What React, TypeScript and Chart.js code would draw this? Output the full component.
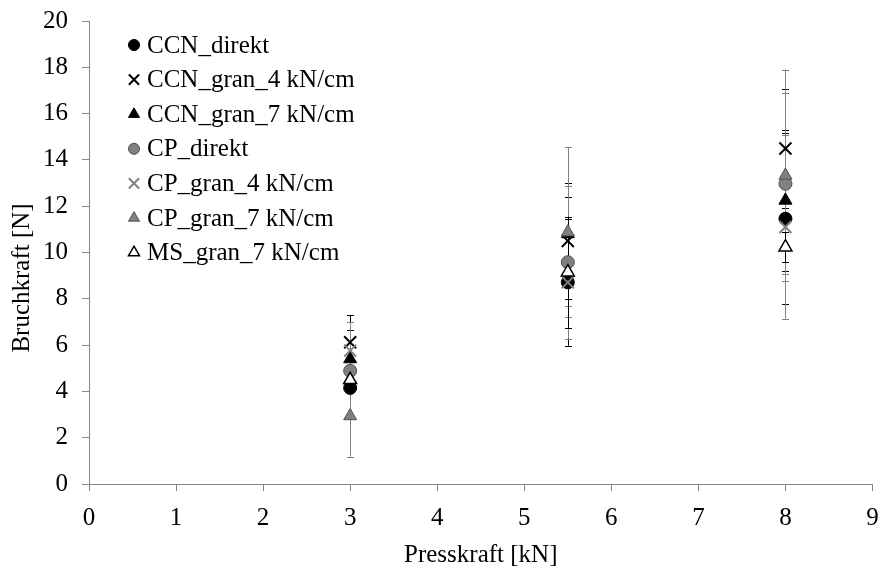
import React, { useEffect, useRef } from 'react';
import { Chart, registerables } from 'chart.js';
import { drawPoint } from 'chart.js/helpers';

Chart.register(...registerables);

// ---- data ----
const pressForces = [3, 5.5, 8];
const xTickValues = [0, 1, 2, 3, 4, 5, 6, 7, 8, 9];
const yTickValues = [0, 2, 4, 6, 8, 10, 12, 14, 16, 18, 20];

const seriesNames = [
  'CCN_direkt',
  'CCN_gran_4 kN/cm',
  'CCN_gran_7 kN/cm',
  'CP_direkt',
  'CP_gran_4 kN/cm',
  'CP_gran_7 kN/cm',
  'MS_gran_7 kN/cm',
];

const ccnDirekt = [4.15, 8.71, 11.46];
const ccnDirektErr = [1.2, 2.74, 3.69];
const ccnGran4 = [6.12, 10.5, 14.49];
const ccnGran4Err = [1.18, 2.5, 2.56];
const ccnGran7 = [5.4, 10.8, 12.25];
const ccnGran7Err = [1.25, 1.6, 3.05];
const cpDirekt = [4.89, 9.58, 12.97];
const cpDirektErr = [0.4, 3.3, 3.9];
const cpGran4 = [5.76, 8.71, 11.1];
const cpGran4Err = [1.22, 1.0, 3.96];
const cpGran7 = [2.94, 10.88, 13.33];
const cpGran7Err = [1.76, 3.68, 4.57];
const msGran7 = [4.5, 9.15, 10.23];
const msGran7Err = [0.3, 2.4, 0.65];

const seriesValues = [ccnDirekt, ccnGran4, ccnGran7, cpDirekt, cpGran4, cpGran7, msGran7];
const seriesErrors = [ccnDirektErr, ccnGran4Err, ccnGran7Err, cpDirektErr, cpGran4Err, cpGran7Err, msGran7Err];

// ---- styles ----
const FONT_FAMILY = '"Liberation Serif", "Times New Roman", serif';
const FONT_SIZE = 25;
const AXIS_COLOR = '#868686';
const GREY = '#808080';
const GREY_EDGE = '#505050';

const seriesStyles = [
  { pointStyle: 'circle', backgroundColor: '#000', borderColor: '#000', borderWidth: 1, radius: 6.5, errColor: '#000' },
  { pointStyle: 'crossRot', backgroundColor: '#000', borderColor: '#000', borderWidth: 2, radius: 8.5, errColor: '#000' },
  { pointStyle: 'triangle', backgroundColor: '#000', borderColor: '#000', borderWidth: 1, radius: 7.5, errColor: '#000' },
  { pointStyle: 'circle', backgroundColor: GREY, borderColor: GREY_EDGE, borderWidth: 1, radius: 6.5, errColor: GREY },
  { pointStyle: 'crossRot', backgroundColor: GREY, borderColor: GREY, borderWidth: 2, radius: 8.5, errColor: GREY },
  { pointStyle: 'triangle', backgroundColor: GREY, borderColor: GREY_EDGE, borderWidth: 1, radius: 7.5, errColor: GREY },
  { pointStyle: 'triangle', backgroundColor: '#fff', borderColor: '#000', borderWidth: 1.5, radius: 7.5, errColor: '#000' },
];

const LEGEND_MARKER_X = 134;
const LEGEND_TEXT_X = 147;
const LEGEND_FIRST_Y = 45;
const LEGEND_STEP = 34.6;

const errorBarPlugin = {
  id: 'errorBars',
  beforeDatasetsDraw(chart: any) {
    const { ctx, scales } = chart;
    const xs = scales.x;
    const ys = scales.y;
    ctx.save();
    chart.data.datasets.forEach((ds: any) => {
      ctx.strokeStyle = ds.errColor;
      ctx.lineWidth = 1;
      ds.data.forEach((pt: any, j: number) => {
        const e = ds.errValues[j];
        const px = Math.round(xs.getPixelForValue(pt.x)) + 0.5;
        const top = ys.getPixelForValue(pt.y + e);
        const bot = ys.getPixelForValue(pt.y - e);
        ctx.beginPath();
        ctx.moveTo(px, top);
        ctx.lineTo(px, bot);
        ctx.moveTo(px - 3.5, Math.round(top) + 0.5);
        ctx.lineTo(px + 3.5, Math.round(top) + 0.5);
        ctx.moveTo(px - 3.5, Math.round(bot) + 0.5);
        ctx.lineTo(px + 3.5, Math.round(bot) + 0.5);
        ctx.stroke();
      });
    });
    ctx.restore();
  },
};

const legendAndTitlePlugin = {
  id: 'legendAndTitle',
  afterDraw(chart: any) {
    const ctx = chart.ctx;
    ctx.save();
    ctx.font = `${FONT_SIZE}px ${FONT_FAMILY}`;
    ctx.textBaseline = 'middle';
    ctx.textAlign = 'left';
    chart.data.datasets.forEach((ds: any, i: number) => {
      const cy = LEGEND_FIRST_Y + i * LEGEND_STEP;
      ctx.fillStyle = ds.backgroundColor;
      ctx.strokeStyle = ds.borderColor;
      ctx.lineWidth = ds.borderWidth;
      drawPoint(ctx, { pointStyle: ds.pointStyle, radius: ds.pointRadius * 0.85, rotation: 0, borderWidth: ds.borderWidth }, LEGEND_MARKER_X, cy);
      ctx.fillStyle = '#000';
      ctx.fillText(ds.label, LEGEND_TEXT_X, cy + 1);
    });
    // y-axis title
    ctx.translate(22, 278);
    ctx.rotate(-Math.PI / 2);
    ctx.textAlign = 'center';
    ctx.fillStyle = '#000';
    ctx.fillText('Bruchkraft [N]', 0, 0);
    ctx.restore();
  },
};

export default function App() {
  const canvasRef = useRef<HTMLCanvasElement | null>(null);

  useEffect(() => {
    if (!canvasRef.current) return;
    const datasets = seriesNames.map((name, i) => {
      const st = seriesStyles[i];
      return {
        label: name,
        data: pressForces.map((x, j) => ({ x, y: seriesValues[i][j] })),
        errValues: seriesErrors[i],
        errColor: st.errColor,
        pointStyle: st.pointStyle,
        backgroundColor: st.backgroundColor,
        borderColor: st.borderColor,
        borderWidth: st.borderWidth,
        pointRadius: st.radius,
        pointHoverRadius: st.radius,
        showLine: false,
        order: -i,
      } as any;
    });
    const tickFont = { family: FONT_FAMILY, size: FONT_SIZE };
    const chart = new Chart(canvasRef.current, {
      type: 'scatter',
      data: { datasets },
      options: {
        animation: false,
        responsive: false,
        maintainAspectRatio: false,
        layout: { padding: { top: 21, right: 7, left: 0, bottom: 0 } },
        plugins: { legend: { display: false }, tooltip: { enabled: false } },
        scales: {
          x: {
            type: 'linear',
            min: 0,
            max: 9,
            afterBuildTicks: (s: any) => { s.ticks = xTickValues.map((v) => ({ value: v })); },
            ticks: { font: tickFont, color: '#000', padding: 12, maxRotation: 0 },
            grid: { drawOnChartArea: false, color: AXIS_COLOR, tickColor: AXIS_COLOR, tickLength: 7, lineWidth: 1 },
            border: { color: AXIS_COLOR, width: 1 },
            title: { display: true, text: 'Presskraft [kN]', font: tickFont, color: '#000', padding: { top: 0, bottom: 2 } },
            afterFit: (s: any) => { s.height = 88; s.paddingLeft = 0; s.paddingRight = 0; },
          },
          y: {
            type: 'linear',
            min: 0,
            max: 20,
            afterBuildTicks: (s: any) => { s.ticks = yTickValues.map((v) => ({ value: v })); },
            ticks: { font: tickFont, color: '#000', padding: 14 },
            grid: { drawOnChartArea: false, color: AXIS_COLOR, tickColor: AXIS_COLOR, tickLength: 7, lineWidth: 1 },
            border: { color: AXIS_COLOR, width: 1 },
            afterFit: (s: any) => { s.width = 89; s.paddingTop = 0; s.paddingBottom = 0; },
          },
        },
      } as any,
      plugins: [errorBarPlugin, legendAndTitlePlugin],
    });
    return () => chart.destroy();
  }, []);

  return (
    <div style={{ position: 'absolute', left: 0, top: 0, width: 883, height: 572, background: '#fff' }}>
      <canvas ref={canvasRef} width={883} height={572} style={{ width: 883, height: 572, display: 'block' }} />
    </div>
  );
}
